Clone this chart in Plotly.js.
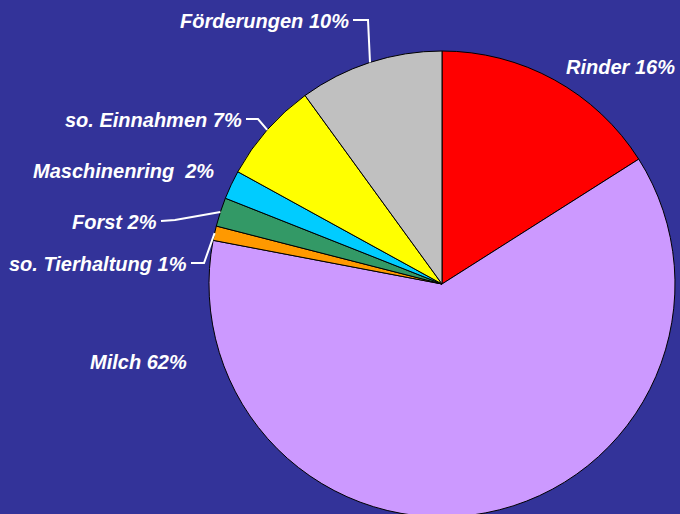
<!DOCTYPE html>
<html>
<head>
<meta charset="utf-8">
<script src="https://cdn.plot.ly/plotly-3.0.1.min.js"></script>
<style>
html,body{margin:0;padding:0;overflow:hidden;background:#333399;width:680px;height:514px;}
#chart{width:680px;height:534px;}
</style>
</head>
<body>
<div id="chart"></div>
<script>
// ---- data ----
var categories = ["Rinder", "Milch", "so. Tierhaltung", "Forst", "Maschinenring ", "so. Einnahmen", "Förderungen"];
var values = [16, 62, 1, 2, 2, 7, 10];
var colors = ["#FF0000", "#CC99FF", "#FF9900", "#339966", "#00CCFF", "#FFFF00", "#C0C0C0"];

// ---- layout (pixels) ----
var W = 680, H = 534;
var CX = 442, CY = 284, R = 233;
// label anchor: right edge x, middle y ; leader: null or [kneeX, kneeY]
var labelPos = [
  {x: 677, y: 67, lead: null},
  {x: 189, y: 362, lead: null},
  {x: 189, y: 264, lead: [[191, 263], [204, 263]]},
  {x: 159, y: 222, lead: [[161, 221], [175, 220]]},
  {x: 216, y: 171, lead: null},
  {x: 244, y: 120, lead: [[246, 119], [258, 119]]},
  {x: 351, y: 21, lead: [[353, 20], [368, 20]]}
];

function px(x){ return x / W; }
function py(y){ return (H - y) / H; }

var total = values.reduce(function(a,b){return a+b;}, 0);
var annotations = [], shapes = [];
var cum = 0;
for (var i = 0; i < values.length; i++) {
  var mid = (cum + values[i] / 2) / total * 2 * Math.PI;
  cum += values[i];
  var ex = CX + R * Math.sin(mid), ey = CY - R * Math.cos(mid);
  var lp = labelPos[i];
  var pct = Math.round(values[i] / total * 100);
  annotations.push({
    xref: 'paper', yref: 'paper', x: px(lp.x), y: py(lp.y),
    xanchor: 'right', yanchor: 'middle', showarrow: false,
    text: '<b><i>' + categories[i] + ' ' + pct + '%</i></b>',
    font: {family: 'Liberation Sans, Arial, sans-serif', size: 20, color: '#FFFFFF'}
  });
  if (lp.lead) {
    var p = 'M' + px(lp.lead[0][0]) + ',' + py(lp.lead[0][1]) +
            ' L' + px(lp.lead[1][0]) + ',' + py(lp.lead[1][1]) +
            ' L' + px(ex) + ',' + py(ey);
    shapes.push({type: 'path', xref: 'paper', yref: 'paper', path: p,
      line: {color: '#FFFFFF', width: 2}});
  }
}

var trace = {
  type: 'pie',
  labels: categories,
  values: values,
  sort: false,
  direction: 'clockwise',
  rotation: 0,
  textinfo: 'none',
  hoverinfo: 'label+percent',
  marker: {colors: colors, line: {color: '#000000', width: 1}},
  domain: {x: [px(CX - R), px(CX + R)], y: [py(CY + R), py(CY - R)]},
  showlegend: false
};

var layout = {
  width: W, height: H,
  margin: {l: 0, r: 0, t: 0, b: 0},
  paper_bgcolor: '#333399',
  plot_bgcolor: '#333399',
  showlegend: false,
  annotations: annotations,
  shapes: shapes
};

Plotly.newPlot('chart', [trace], layout, {displayModeBar: false, staticPlot: true});
</script>
</body>
</html>
